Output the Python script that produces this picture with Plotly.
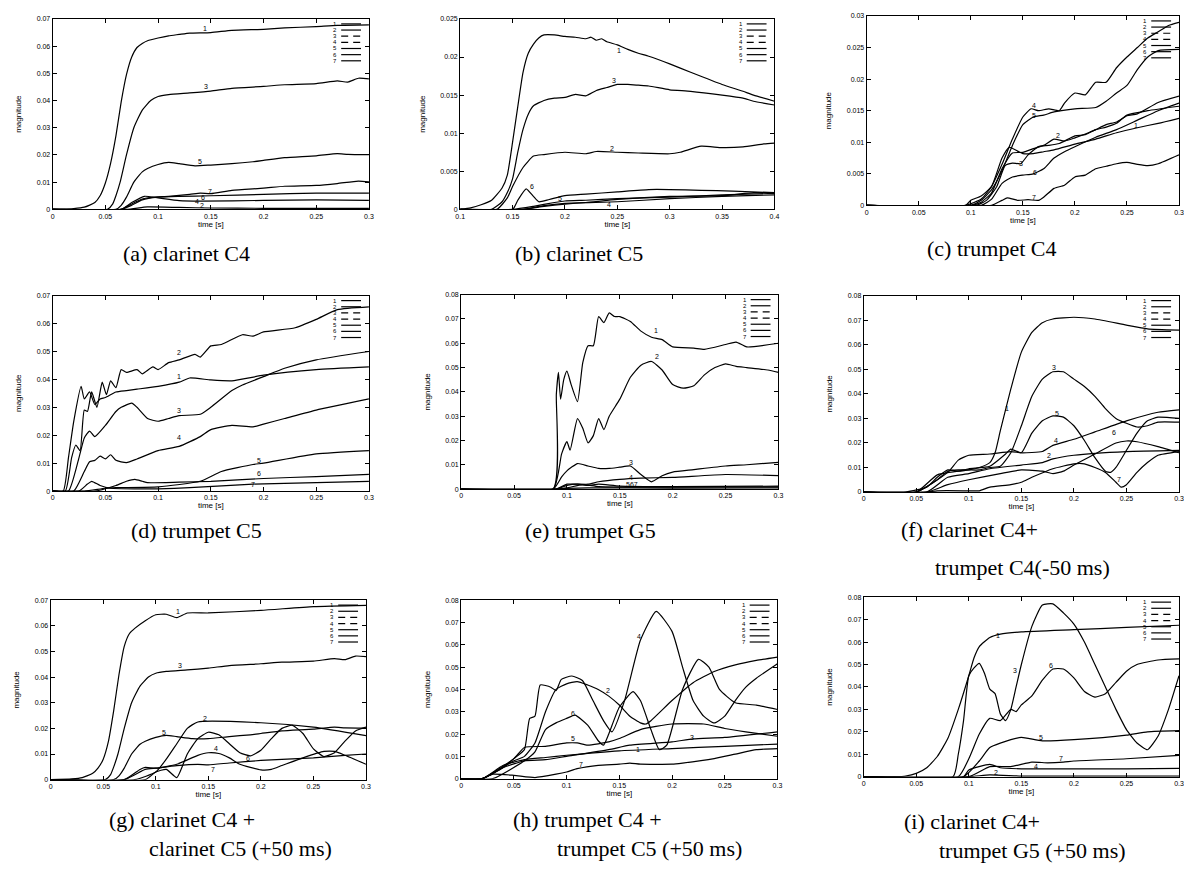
import plotly.graph_objects as go

# ---------------- data: (a) clarinet C4 ----------------
a1_t = [0, 0.02, 0.03, 0.04, 0.045, 0.05, 0.055, 0.06, 0.065, 0.07, 0.075, 0.08, 0.085, 0.09, 0.1, 0.11, 0.12, 0.13, 0.15, 0.17, 0.2, 0.22, 0.25, 0.27, 0.3]
a1_m = [0, 0.0003, 0.0008, 0.0025, 0.005, 0.0097, 0.017, 0.027, 0.0395, 0.0495, 0.056, 0.0595, 0.061, 0.062, 0.063, 0.0638, 0.0643, 0.0648, 0.065, 0.0658, 0.0662, 0.0667, 0.0672, 0.0676, 0.0678]
a2_t = [0, 0.07, 0.09, 0.12, 0.15, 0.2, 0.25, 0.3]
a2_m = [0, 0, 0.0009, 0.0007, 0.0005, 0.0004, 0.0004, 0.0004]
a3_t = [0, 0.052, 0.057, 0.06, 0.064, 0.07, 0.077, 0.085, 0.093, 0.1, 0.11, 0.13, 0.15, 0.17, 0.2, 0.22, 0.25, 0.27, 0.28, 0.29, 0.3]
a3_m = [0, 0, 0.002, 0.005, 0.01, 0.02, 0.03, 0.0365, 0.04, 0.0415, 0.0422, 0.0428, 0.0435, 0.0445, 0.0452, 0.0458, 0.0462, 0.0472, 0.0468, 0.0482, 0.048]
a4_t = [0, 0.065, 0.075, 0.087, 0.1, 0.12, 0.14, 0.2, 0.25, 0.3]
a4_m = [0, 0, 0.0025, 0.0048, 0.0042, 0.0032, 0.003, 0.0033, 0.0035, 0.0033]
a5_t = [0, 0.06, 0.065, 0.07, 0.077, 0.085, 0.09, 0.1, 0.11, 0.12, 0.135, 0.15, 0.17, 0.19, 0.2, 0.22, 0.25, 0.27, 0.28, 0.3]
a5_m = [0, 0, 0.0015, 0.0045, 0.01, 0.0138, 0.015, 0.0165, 0.0173, 0.0168, 0.016, 0.0163, 0.0168, 0.0175, 0.018, 0.019, 0.0197, 0.0205, 0.0202, 0.0201]
a6_t = [0, 0.065, 0.075, 0.085, 0.1, 0.12, 0.15, 0.2, 0.25, 0.3]
a6_m = [0, 0, 0.0015, 0.0035, 0.0045, 0.0048, 0.005, 0.0055, 0.006, 0.006]
a7_t = [0, 0.065, 0.075, 0.085, 0.095, 0.11, 0.13, 0.14, 0.15, 0.17, 0.2, 0.22, 0.25, 0.27, 0.29, 0.3]
a7_m = [0, 0, 0.002, 0.0038, 0.0045, 0.0048, 0.0055, 0.006, 0.0058, 0.007, 0.0078, 0.0085, 0.0088, 0.0095, 0.0104, 0.0101]

# ---------------- data: (b) clarinet C5 ----------------
b1_t = [0.1, 0.11, 0.12, 0.13, 0.14, 0.145, 0.15, 0.155, 0.16, 0.165, 0.17, 0.175, 0.18, 0.19, 0.2, 0.21, 0.22, 0.225, 0.23, 0.235, 0.24, 0.25, 0.26, 0.27, 0.28, 0.3, 0.32, 0.35, 0.37, 0.38, 0.4]
b1_m = [0, 0.0002, 0.0006, 0.0012, 0.0028, 0.0045, 0.0088, 0.0135, 0.018, 0.0205, 0.0217, 0.0225, 0.0229, 0.0229, 0.0227, 0.0226, 0.0224, 0.0226, 0.0222, 0.0224, 0.022, 0.0216, 0.021, 0.0205, 0.0201, 0.0191, 0.018, 0.0164, 0.0155, 0.015, 0.0142]
b2_t = [0.1, 0.135, 0.145, 0.15, 0.16, 0.17, 0.18, 0.2, 0.22, 0.23, 0.25, 0.27, 0.3, 0.31, 0.33, 0.35, 0.37, 0.39, 0.4]
b2_m = [0, 0, 0.0015, 0.003, 0.0055, 0.007, 0.0072, 0.0075, 0.0073, 0.0076, 0.0075, 0.0074, 0.0073, 0.0075, 0.0083, 0.0081, 0.0082, 0.0086, 0.0087]
b3_t = [0.1, 0.13, 0.14, 0.145, 0.15, 0.155, 0.16, 0.165, 0.17, 0.18, 0.19, 0.2, 0.21, 0.22, 0.23, 0.24, 0.25, 0.26, 0.27, 0.28, 0.3, 0.32, 0.35, 0.37, 0.38, 0.4]
b3_m = [0, 0, 0.001, 0.0022, 0.004, 0.0075, 0.0105, 0.0125, 0.0136, 0.0143, 0.0146, 0.0147, 0.0151, 0.0149, 0.0156, 0.016, 0.0164, 0.0164, 0.0163, 0.0162, 0.0157, 0.0155, 0.015, 0.0146, 0.0142, 0.0137]
b4_t = [0.1, 0.16, 0.18, 0.2, 0.25, 0.3, 0.35, 0.4]
b4_m = [0, 0, 0.0005, 0.0008, 0.001, 0.0014, 0.0017, 0.0019]
b5_t = [0.1, 0.15, 0.17, 0.19, 0.2, 0.22, 0.25, 0.3, 0.35, 0.4]
b5_m = [0, 0, 0.0004, 0.0009, 0.0011, 0.0012, 0.0014, 0.0016, 0.0019, 0.0021]
b6_t = [0.1, 0.15, 0.155, 0.163, 0.17, 0.175, 0.185, 0.2, 0.22, 0.25, 0.28, 0.3, 0.33, 0.36, 0.4]
b6_m = [0, 0, 0.0012, 0.0027, 0.0017, 0.001, 0.0013, 0.0018, 0.002, 0.0023, 0.0026, 0.0026, 0.0025, 0.0024, 0.0022]
b7_t = [0.1, 0.16, 0.18, 0.2, 0.22, 0.25, 0.3, 0.35, 0.38, 0.4]
b7_m = [0, 0, 0.0004, 0.0007, 0.0009, 0.0013, 0.0017, 0.0018, 0.0022, 0.0022]

# ---------------- data: (c) trumpet C4 ----------------
c1_t = [0, 0.095, 0.1, 0.11, 0.12, 0.13, 0.137, 0.145, 0.15, 0.16, 0.17, 0.18, 0.2, 0.22, 0.24, 0.26, 0.28, 0.3]
c1_m = [0, 0, 0.0008, 0.0015, 0.003, 0.0075, 0.0092, 0.0086, 0.0082, 0.0082, 0.0085, 0.0088, 0.0097, 0.0105, 0.0115, 0.0123, 0.013, 0.0138]
c2_t = [0, 0.1, 0.11, 0.12, 0.13, 0.14, 0.15, 0.16, 0.17, 0.18, 0.19, 0.2, 0.21, 0.22, 0.23, 0.24, 0.25, 0.27, 0.3]
c2_m = [0, 0, 0.0005, 0.002, 0.0058, 0.0083, 0.0084, 0.009, 0.0095, 0.0105, 0.0102, 0.0107, 0.0113, 0.012, 0.0124, 0.013, 0.0143, 0.015, 0.0157]
c3_t = [0, 0.105, 0.115, 0.125, 0.133, 0.14, 0.148, 0.155, 0.165, 0.175, 0.185, 0.2, 0.21, 0.22, 0.23, 0.24, 0.25, 0.26, 0.28, 0.3]
c3_m = [0, 0, 0.0008, 0.003, 0.0063, 0.0067, 0.0066, 0.008, 0.0093, 0.0095, 0.0098, 0.011, 0.0112, 0.012, 0.0128, 0.0132, 0.0142, 0.0145, 0.0163, 0.0173]
c4_t = [0, 0.095, 0.11, 0.12, 0.13, 0.14, 0.15, 0.158, 0.165, 0.175, 0.185, 0.19, 0.2, 0.21, 0.22, 0.23, 0.24, 0.25, 0.26, 0.27, 0.28, 0.29, 0.3]
c4_m = [0, 0, 0.001, 0.003, 0.0065, 0.0105, 0.014, 0.0153, 0.015, 0.0153, 0.015, 0.0162, 0.0178, 0.0175, 0.0195, 0.0195, 0.0218, 0.0235, 0.025, 0.0265, 0.0275, 0.0285, 0.029]
c5_t = [0, 0.1, 0.11, 0.12, 0.13, 0.14, 0.15, 0.16, 0.17, 0.18, 0.2, 0.22, 0.23, 0.24, 0.25, 0.26, 0.27, 0.28, 0.3]
c5_m = [0, 0, 0.0008, 0.0025, 0.0055, 0.0095, 0.0128, 0.014, 0.0143, 0.0148, 0.0153, 0.0155, 0.0165, 0.0178, 0.019, 0.0215, 0.0235, 0.0245, 0.0247]
c6_t = [0, 0.11, 0.12, 0.13, 0.14, 0.15, 0.16, 0.17, 0.18, 0.19, 0.2, 0.22, 0.24, 0.26, 0.28, 0.3]
c6_m = [0, 0, 0.001, 0.0035, 0.0045, 0.0048, 0.005, 0.0058, 0.0075, 0.0085, 0.0093, 0.0108, 0.012, 0.0135, 0.015, 0.0162]
c7_t = [0, 0.12, 0.13, 0.135, 0.145, 0.155, 0.165, 0.17, 0.18, 0.19, 0.2, 0.21, 0.22, 0.23, 0.24, 0.25, 0.26, 0.27, 0.28, 0.3]
c7_m = [0, 0, 0.0008, 0.0012, 0.0008, 0.0009, 0.0008, 0.0013, 0.0027, 0.0032, 0.0045, 0.0048, 0.0058, 0.0062, 0.0066, 0.0068, 0.0065, 0.0063, 0.0066, 0.008]

# ---------------- data: (d) trumpet C5 ----------------
d1_t = [0, 0.01, 0.015, 0.02, 0.027, 0.03, 0.035, 0.04, 0.045, 0.05, 0.06, 0.07, 0.08, 0.1, 0.12, 0.13, 0.15, 0.17, 0.2, 0.25, 0.3]
d1_m = [0, 0, 0.012, 0.025, 0.0375, 0.033, 0.0355, 0.031, 0.033, 0.0335, 0.0355, 0.036, 0.0365, 0.0375, 0.039, 0.0405, 0.0398, 0.0395, 0.0415, 0.0435, 0.0445]
d2_t = [0, 0.012, 0.018, 0.022, 0.026, 0.03, 0.033, 0.037, 0.042, 0.047, 0.051, 0.055, 0.06, 0.065, 0.07, 0.08, 0.085, 0.095, 0.1, 0.11, 0.12, 0.135, 0.14, 0.15, 0.16, 0.18, 0.19, 0.2, 0.23, 0.25, 0.27, 0.3]
d2_m = [0, 0, 0.012, 0.0165, 0.0145, 0.029, 0.0285, 0.0355, 0.030, 0.039, 0.0345, 0.0395, 0.037, 0.0435, 0.0425, 0.0435, 0.042, 0.0445, 0.0435, 0.046, 0.047, 0.049, 0.048, 0.052, 0.0525, 0.056, 0.0555, 0.057, 0.0585, 0.0615, 0.065, 0.066]
d3_t = [0, 0.015, 0.025, 0.03, 0.035, 0.04, 0.05, 0.06, 0.065, 0.075, 0.08, 0.09, 0.1, 0.11, 0.12, 0.14, 0.15, 0.17, 0.18, 0.2, 0.22, 0.25, 0.3]
d3_m = [0, 0, 0.012, 0.019, 0.0215, 0.0195, 0.0235, 0.0285, 0.03, 0.0315, 0.03, 0.026, 0.025, 0.026, 0.027, 0.0275, 0.03, 0.036, 0.038, 0.041, 0.044, 0.047, 0.050]
d4_t = [0, 0.02, 0.03, 0.035, 0.04, 0.045, 0.05, 0.055, 0.06, 0.07, 0.08, 0.1, 0.12, 0.14, 0.15, 0.17, 0.19, 0.2, 0.22, 0.25, 0.3]
d4_m = [0, 0, 0.007, 0.0105, 0.011, 0.0125, 0.0115, 0.013, 0.011, 0.0102, 0.0115, 0.0145, 0.016, 0.0195, 0.022, 0.0235, 0.023, 0.024, 0.026, 0.029, 0.033]
d5_t = [0, 0.03, 0.05, 0.06, 0.1, 0.14, 0.16, 0.19, 0.2, 0.25, 0.3]
d5_m = [0, 0, 0.001, 0.0012, 0.0015, 0.0035, 0.007, 0.0095, 0.01, 0.0133, 0.0145]
d6_t = [0, 0.04, 0.06, 0.07, 0.078, 0.085, 0.09, 0.12, 0.15, 0.2, 0.25, 0.3]
d6_m = [0, 0, 0.002, 0.0035, 0.0042, 0.0035, 0.003, 0.0032, 0.0035, 0.0045, 0.0052, 0.006]
d7_t = [0, 0.025, 0.033, 0.037, 0.045, 0.055, 0.08, 0.1, 0.13, 0.19, 0.25, 0.3]
d7_m = [0, 0, 0.0025, 0.0035, 0.002, 0.001, 0.0008, 0.0008, 0.0012, 0.0025, 0.003, 0.0035]

# ---------------- data: (e) trumpet G5 ----------------
e1_t = [0, 0.087, 0.09, 0.092, 0.094, 0.097, 0.1, 0.104, 0.11, 0.115, 0.12, 0.125, 0.13, 0.135, 0.14, 0.145, 0.15, 0.16, 0.17, 0.18, 0.19, 0.2, 0.22, 0.23, 0.25, 0.26, 0.27, 0.3]
e1_m = [0, 0, 0.039, 0.048, 0.037, 0.045, 0.0485, 0.043, 0.036, 0.052, 0.059, 0.059, 0.071, 0.0685, 0.0725, 0.071, 0.071, 0.069, 0.065, 0.0625, 0.0615, 0.0585, 0.058, 0.0575, 0.0595, 0.0605, 0.0585, 0.06]
e2_t = [0, 0.087, 0.095, 0.1, 0.103, 0.11, 0.115, 0.12, 0.125, 0.13, 0.135, 0.14, 0.15, 0.16, 0.17, 0.18, 0.19, 0.2, 0.21, 0.22, 0.23, 0.24, 0.25, 0.26, 0.27, 0.29, 0.3]
e2_m = [0, 0, 0.0145, 0.0195, 0.016, 0.029, 0.025, 0.019, 0.022, 0.029, 0.0245, 0.03, 0.037, 0.046, 0.051, 0.0525, 0.049, 0.043, 0.0415, 0.0425, 0.047, 0.05, 0.0515, 0.0505, 0.05, 0.049, 0.048]
e3_t = [0, 0.087, 0.095, 0.1, 0.11, 0.12, 0.13, 0.14, 0.15, 0.16, 0.17, 0.18, 0.19, 0.2, 0.22, 0.25, 0.27, 0.3]
e3_m = [0, 0, 0.005, 0.0075, 0.0105, 0.0095, 0.0085, 0.0085, 0.009, 0.0095, 0.006, 0.003, 0.0055, 0.007, 0.008, 0.0095, 0.01, 0.011]
e4_t = [0, 0.09, 0.1, 0.12, 0.13, 0.15, 0.17, 0.2, 0.25, 0.3]
e4_m = [0, 0, 0.002, 0.002, 0.003, 0.004, 0.0045, 0.0048, 0.006, 0.0055]
e5_t = [0, 0.09, 0.1, 0.11, 0.12, 0.13, 0.15, 0.2, 0.3]
e5_m = [0, 0, 0.0015, 0.002, 0.0015, 0.002, 0.0012, 0.001, 0.0012]
e6_t = [0, 0.09, 0.1, 0.115, 0.13, 0.2, 0.3]
e6_m = [0, 0, 0.0005, 0.0018, 0.001, 0.0008, 0.0009]
e7_t = [0, 0.09, 0.1, 0.12, 0.2, 0.3]
e7_m = [0, 0, 0.0003, 0.0005, 0.0004, 0.0005]

# ---------------- data: (f) clarinet C4 + trumpet C4(-50 ms) ----------------
f1_t = [0, 0.04, 0.06, 0.07, 0.08, 0.09, 0.1, 0.11, 0.12, 0.125, 0.13, 0.14, 0.15, 0.16, 0.17, 0.18, 0.2, 0.22, 0.25, 0.27, 0.3]
f1_m = [0, 0, 0.002, 0.006, 0.009, 0.0085, 0.009, 0.01, 0.012, 0.016, 0.025, 0.042, 0.057, 0.065, 0.069, 0.0705, 0.0712, 0.0705, 0.068, 0.0665, 0.066]
f2_t = [0, 0.06, 0.08, 0.1, 0.12, 0.15, 0.17, 0.18, 0.2, 0.25, 0.3]
f2_m = [0, 0, 0.006, 0.0075, 0.0095, 0.011, 0.012, 0.0135, 0.015, 0.0165, 0.017]
f3_t = [0, 0.05, 0.07, 0.08, 0.09, 0.1, 0.11, 0.12, 0.13, 0.14, 0.15, 0.16, 0.17, 0.18, 0.19, 0.2, 0.21, 0.22, 0.23, 0.24, 0.25, 0.26, 0.27, 0.28, 0.3]
f3_m = [0, 0, 0.005, 0.0085, 0.009, 0.009, 0.009, 0.01, 0.0105, 0.016, 0.027, 0.039, 0.046, 0.049, 0.049, 0.046, 0.043, 0.039, 0.034, 0.03, 0.028, 0.0265, 0.027, 0.0285, 0.0285]
f4_t = [0, 0.05, 0.08, 0.09, 0.1, 0.12, 0.14, 0.15, 0.17, 0.18, 0.2, 0.22, 0.25, 0.28, 0.3]
f4_m = [0, 0, 0.008, 0.013, 0.015, 0.0155, 0.0165, 0.016, 0.0165, 0.019, 0.0215, 0.0245, 0.029, 0.0325, 0.0335]
f5_t = [0, 0.05, 0.07, 0.09, 0.1, 0.12, 0.135, 0.14, 0.15, 0.16, 0.17, 0.18, 0.19, 0.2, 0.21, 0.22, 0.23, 0.235, 0.24, 0.25, 0.26, 0.27, 0.28, 0.3]
f5_m = [0, 0, 0.007, 0.0085, 0.0095, 0.0105, 0.0155, 0.0175, 0.016, 0.024, 0.029, 0.031, 0.0305, 0.027, 0.021, 0.014, 0.0085, 0.008, 0.01, 0.017, 0.024, 0.029, 0.0305, 0.030]
f6_t = [0, 0.06, 0.08, 0.1, 0.13, 0.15, 0.17, 0.18, 0.19, 0.2, 0.22, 0.24, 0.25, 0.26, 0.28, 0.3]
f6_m = [0, 0, 0.003, 0.005, 0.0075, 0.009, 0.0085, 0.0075, 0.0085, 0.011, 0.0155, 0.02, 0.0208, 0.0205, 0.0185, 0.016]
f7_t = [0, 0.06, 0.07, 0.1, 0.11, 0.12, 0.14, 0.15, 0.16, 0.18, 0.2, 0.21, 0.22, 0.23, 0.24, 0.245, 0.25, 0.26, 0.27, 0.28, 0.3]
f7_m = [0, 0, 0.0005, 0.0005, 0.0005, 0.002, 0.003, 0.004, 0.006, 0.0095, 0.0115, 0.0115, 0.01, 0.008, 0.004, 0.002, 0.003, 0.008, 0.012, 0.015, 0.0165]

# ---------------- data: (g) clarinet C4 + clarinet C5 (+50 ms) ----------------
g1_t = [0, 0.02, 0.03, 0.04, 0.045, 0.05, 0.055, 0.06, 0.065, 0.07, 0.075, 0.08, 0.09, 0.1, 0.11, 0.12, 0.13, 0.15, 0.2, 0.25, 0.3]
g1_m = [0, 0.0003, 0.0008, 0.0025, 0.0045, 0.008, 0.015, 0.027, 0.041, 0.052, 0.057, 0.059, 0.062, 0.0643, 0.0645, 0.0632, 0.065, 0.065, 0.066, 0.0675, 0.068]
g2_t = [0, 0.08, 0.1, 0.11, 0.12, 0.13, 0.14, 0.2, 0.25, 0.3]
g2_m = [0, 0, 0.003, 0.008, 0.014, 0.02, 0.0225, 0.0222, 0.0205, 0.0172]
g3_t = [0, 0.052, 0.057, 0.06, 0.064, 0.07, 0.077, 0.085, 0.093, 0.1, 0.11, 0.13, 0.15, 0.17, 0.2, 0.22, 0.25, 0.27, 0.28, 0.29, 0.3]
g3_m = [0, 0, 0.002, 0.005, 0.01, 0.02, 0.03, 0.0365, 0.04, 0.0415, 0.0422, 0.0428, 0.0435, 0.0445, 0.0452, 0.0458, 0.0462, 0.0472, 0.0468, 0.0482, 0.048]
g4_t = [0, 0.07, 0.085, 0.09, 0.1, 0.12, 0.14, 0.15, 0.16, 0.17, 0.18, 0.2, 0.21, 0.22, 0.24, 0.26, 0.27, 0.28, 0.3]
g4_m = [0, 0, 0.004, 0.0048, 0.0045, 0.006, 0.0095, 0.0105, 0.0102, 0.0085, 0.006, 0.0038, 0.004, 0.0055, 0.0085, 0.011, 0.011, 0.0095, 0.006]
g5_t = [0, 0.06, 0.065, 0.07, 0.077, 0.085, 0.09, 0.1, 0.11, 0.12, 0.135, 0.15, 0.17, 0.19, 0.2, 0.22, 0.25, 0.27, 0.28, 0.3]
g5_m = [0, 0, 0.0015, 0.0045, 0.01, 0.0138, 0.015, 0.0165, 0.0173, 0.0168, 0.016, 0.016, 0.0168, 0.0175, 0.018, 0.019, 0.0197, 0.0205, 0.0202, 0.0201]
g6_t = [0, 0.09, 0.1, 0.11, 0.12, 0.13, 0.14, 0.15, 0.16, 0.17, 0.18, 0.19, 0.2, 0.21, 0.22, 0.23, 0.24, 0.25, 0.26, 0.27, 0.28, 0.29, 0.3]
g6_m = [0, 0, 0.003, 0.004, 0.0008, 0.01, 0.016, 0.0185, 0.0175, 0.014, 0.0105, 0.0093, 0.0115, 0.016, 0.02, 0.0212, 0.018, 0.012, 0.009, 0.0105, 0.015, 0.019, 0.0205]
g7_t = [0, 0.07, 0.09, 0.1, 0.12, 0.14, 0.15, 0.17, 0.2, 0.25, 0.28, 0.3]
g7_m = [0, 0, 0.004, 0.0045, 0.0055, 0.006, 0.0058, 0.0065, 0.0075, 0.0085, 0.0095, 0.010]

# ---------------- data: (h) trumpet C4 + trumpet C5 (+50 ms) ----------------
h1_t = [0, 0.02, 0.04, 0.06, 0.08, 0.1, 0.15, 0.2, 0.25, 0.3]
h1_m = [0, 0, 0.006, 0.0085, 0.0095, 0.0105, 0.0125, 0.0135, 0.0145, 0.0155]
h2_t = [0, 0.02, 0.05, 0.06, 0.07, 0.08, 0.09, 0.1, 0.11, 0.12, 0.13, 0.14, 0.15, 0.16, 0.17, 0.175, 0.18, 0.2, 0.22, 0.24, 0.26, 0.28, 0.3]
h2_m = [0, 0, 0.008, 0.01, 0.016, 0.03, 0.04, 0.0425, 0.0435, 0.042, 0.04, 0.037, 0.033, 0.028, 0.025, 0.0245, 0.026, 0.035, 0.043, 0.048, 0.051, 0.053, 0.0545]
h3_t = [0, 0.02, 0.04, 0.06, 0.08, 0.1, 0.14, 0.16, 0.2, 0.22, 0.25, 0.3]
h3_m = [0, 0, 0.005, 0.008, 0.0085, 0.01, 0.013, 0.015, 0.0165, 0.0178, 0.0185, 0.021]
h4_t = [0, 0.02, 0.04, 0.05, 0.06, 0.065, 0.07, 0.075, 0.085, 0.09, 0.095, 0.105, 0.115, 0.125, 0.135, 0.143, 0.155, 0.17, 0.185, 0.2, 0.21, 0.22, 0.23, 0.24, 0.25, 0.26, 0.27, 0.28, 0.3]
h4_m = [0, 0, 0.005, 0.009, 0.013, 0.027, 0.028, 0.042, 0.041, 0.0395, 0.0445, 0.046, 0.044, 0.035, 0.026, 0.021, 0.035, 0.062, 0.075, 0.066, 0.05, 0.035, 0.028, 0.025, 0.028, 0.035, 0.041, 0.045, 0.0515]
h5_t = [0, 0.02, 0.05, 0.06, 0.08, 0.1, 0.11, 0.12, 0.14, 0.15, 0.17, 0.2, 0.23, 0.25, 0.27, 0.3]
h5_m = [0, 0, 0.009, 0.014, 0.0145, 0.016, 0.016, 0.015, 0.0165, 0.018, 0.022, 0.0245, 0.0245, 0.0225, 0.021, 0.019]
h6_t = [0, 0.03, 0.06, 0.07, 0.08, 0.09, 0.1, 0.108, 0.12, 0.13, 0.135, 0.14, 0.15, 0.163, 0.17, 0.18, 0.188, 0.195, 0.21, 0.225, 0.235, 0.245, 0.26, 0.28, 0.3]
h6_m = [0, 0, 0.008, 0.012, 0.022, 0.025, 0.027, 0.0285, 0.024, 0.017, 0.015, 0.02, 0.032, 0.039, 0.035, 0.022, 0.013, 0.015, 0.04, 0.0535, 0.05, 0.04, 0.034, 0.033, 0.031]
h7_t = [0, 0.02, 0.03, 0.05, 0.07, 0.09, 0.1, 0.11, 0.13, 0.15, 0.16, 0.17, 0.2, 0.21, 0.24, 0.26, 0.28, 0.3]
h7_m = [0, 0, 0.002, 0.0015, 0.0005, 0.002, 0.003, 0.0045, 0.006, 0.0065, 0.007, 0.0065, 0.0065, 0.007, 0.009, 0.011, 0.013, 0.0135]

# ---------------- data: (i) clarinet C4 + trumpet G5 (+50 ms) ----------------
i1_t = [0, 0.03, 0.04, 0.05, 0.06, 0.07, 0.08, 0.09, 0.1, 0.105, 0.11, 0.12, 0.13, 0.15, 0.2, 0.25, 0.3]
i1_m = [0, 0, 0.0003, 0.0015, 0.004, 0.009, 0.017, 0.03, 0.045, 0.053, 0.058, 0.062, 0.0635, 0.0645, 0.0655, 0.0665, 0.0675]
i2_t = [0, 0.1, 0.12, 0.15, 0.2, 0.3]
i2_m = [0, 0, 0.0008, 0.0003, 0.0003, 0.0003]
i3_t = [0, 0.085, 0.09, 0.095, 0.1, 0.105, 0.11, 0.115, 0.12, 0.125, 0.13, 0.135, 0.14, 0.145, 0.15, 0.16, 0.17, 0.18, 0.19, 0.2, 0.21, 0.22, 0.23, 0.24, 0.25, 0.26, 0.27, 0.28, 0.29, 0.3]
i3_m = [0, 0, 0.01, 0.025, 0.045, 0.0485, 0.0505, 0.046, 0.039, 0.037, 0.028, 0.025, 0.03, 0.04, 0.05, 0.067, 0.0765, 0.077, 0.073, 0.068, 0.06, 0.05, 0.04, 0.03, 0.021, 0.015, 0.012, 0.018, 0.03, 0.045]
i4_t = [0, 0.095, 0.1, 0.12, 0.13, 0.15, 0.2, 0.25, 0.3]
i4_m = [0, 0, 0.003, 0.0055, 0.004, 0.0035, 0.0035, 0.0035, 0.0037]
i5_t = [0, 0.095, 0.11, 0.12, 0.14, 0.15, 0.17, 0.2, 0.25, 0.27, 0.3]
i5_m = [0, 0, 0.007, 0.013, 0.0165, 0.0175, 0.016, 0.0165, 0.0185, 0.02, 0.0205]
i6_t = [0, 0.09, 0.1, 0.11, 0.12, 0.13, 0.14, 0.145, 0.15, 0.16, 0.17, 0.18, 0.19, 0.2, 0.21, 0.22, 0.23, 0.24, 0.25, 0.26, 0.28, 0.3]
i6_m = [0, 0, 0.008, 0.019, 0.026, 0.025, 0.03, 0.029, 0.032, 0.036, 0.043, 0.048, 0.048, 0.044, 0.038, 0.0355, 0.037, 0.042, 0.047, 0.05, 0.052, 0.0525]
i7_t = [0, 0.1, 0.12, 0.14, 0.16, 0.175, 0.19, 0.2, 0.25, 0.3]
i7_m = [0, 0, 0.0045, 0.0045, 0.0065, 0.0062, 0.0065, 0.007, 0.008, 0.0095]

# ---------------- curve labels (number, time, magnitude) ----------------
a_lab = [("1", 0.1445, 0.0664), ("3", 0.145, 0.0453), ("5", 0.14, 0.0177), ("7", 0.149, 0.0067), ("6", 0.143, 0.0045), ("4", 0.137, 0.003), ("2", 0.142, 0.0016)]
b_lab = [("1", 0.252, 0.0209), ("3", 0.247, 0.0169), ("2", 0.245, 0.008), ("6", 0.169, 0.003), ("5", 0.195, 0.0014), ("4", 0.242, 0.0007)]
c_lab = [("4", 0.161, 0.0159), ("5", 0.161, 0.0142), ("2", 0.184, 0.011), ("3", 0.148, 0.0067), ("6", 0.162, 0.0052), ("7", 0.161, 0.0013), ("1", 0.259, 0.0127)]
d_lab = [("2", 0.12, 0.0496), ("1", 0.12, 0.041), ("3", 0.12, 0.029), ("4", 0.12, 0.0193), ("5", 0.196, 0.011), ("6", 0.196, 0.0062), ("7", 0.19, 0.0024)]
e_lab = [("1", 0.184, 0.0653), ("2", 0.185, 0.0544), ("3", 0.161, 0.0109), ("4", 0.161, 0.0049), ("567", 0.162, 0.002)]
f_lab = [("1", 0.136, 0.034), ("3", 0.181, 0.0509), ("5", 0.184, 0.0321), ("4", 0.183, 0.0212), ("2", 0.176, 0.015), ("6", 0.238, 0.0242), ("7", 0.243, 0.005)]
g_lab = [("1", 0.121, 0.0654), ("3", 0.123, 0.0445), ("2", 0.147, 0.0239), ("5", 0.108, 0.0183), ("4", 0.157, 0.0122), ("6", 0.188, 0.0084), ("7", 0.154, 0.0039)]
h_lab = [("4", 0.169, 0.0637), ("2", 0.139, 0.0396), ("6", 0.106, 0.0293), ("5", 0.106, 0.0179), ("3", 0.219, 0.0186), ("1", 0.168, 0.013), ("7", 0.114, 0.0064)]
i_lab = [("1", 0.128, 0.063), ("3", 0.1436, 0.0475), ("6", 0.178, 0.0497), ("5", 0.169, 0.0173), ("7", 0.188, 0.008), ("4", 0.164, 0.0044), ("2", 0.126, 0.0018)]

# ---------------- captions ----------------
captions = {
    "a": ["(a) clarinet C4"],
    "b": ["(b) clarinet C5"],
    "c": ["(c) trumpet C4"],
    "d": ["(d) trumpet C5"],
    "e": ["(e) trumpet G5"],
    "f": ["(f) clarinet C4+", "trumpet C4(-50 ms)"],
    "g": ["(g) clarinet C4 +", "clarinet C5 (+50 ms)"],
    "h": ["(h) trumpet C4 +", "trumpet C5 (+50 ms)"],
    "i": ["(i) clarinet C4+", "trumpet G5 (+50 ms)"],
}
legend_keys = ["1", "2", "3", "4", "5", "6", "7"]

# ---------------- layout geometry (window pixels) ----------------
WIN_W, WIN_H = 1192, 872
OFF = 8                      # default page margin around the plot div
W, H = WIN_W - 2 * OFF, WIN_H - 2 * OFF


def fx(px):
    return (px - OFF) / W


def fy(py):
    return 1 - (py - OFF) / H


panels = ["a", "b", "c", "d", "e", "f", "g", "h", "i"]
boxes = {  # left, top, right, bottom (window pixels)
    "a": (48, 15, 367, 207), "b": (459, 15, 776, 207), "c": (869, 12, 1184, 203),
    "d": (48, 294, 367, 491), "e": (460, 293, 780, 489), "f": (866, 294, 1184, 492),
    "g": (46, 601, 364, 782), "h": (460, 601, 779, 781), "i": (866, 598, 1184, 779),
}
xranges = {p: [0, 0.3] for p in panels}
xranges["b"] = [0.1, 0.4]
yranges = {"a": [0, 0.07], "b": [0, 0.025], "c": [0, 0.03], "d": [0, 0.07], "e": [0, 0.08],
           "f": [0, 0.08], "g": [0, 0.07], "h": [0, 0.08], "i": [0, 0.08]}
ydt = {"a": 0.01, "b": 0.005, "c": 0.005, "d": 0.01, "e": 0.01, "f": 0.01, "g": 0.01, "h": 0.01, "i": 0.01}
cap_pos = {  # (x left, y center) per caption line, window pixels
    "a": [(117, 251)], "b": [(512, 251)], "c": [(928, 246)],
    "d": [(125, 531)], "e": [(522, 531)],
    "f": [(902, 530), (936, 568)],
    "g": [(103, 822), (143, 851)],
    "h": [(510, 822), (555, 851)],
    "i": [(905, 824), (940, 853)],
}

SANS = "Liberation Sans, Arial, sans-serif"
TICKFONT = dict(family=SANS, size=7, color="black")

fig = go.Figure()
layout = dict(width=W, height=H, margin=dict(l=0, r=0, t=0, b=0),
              paper_bgcolor="white", plot_bgcolor="white", showlegend=False)
annotations = []
shapes = []

for n, p in enumerate(panels, start=1):
    sfx = "" if n == 1 else str(n)
    xa, ya = "x" + sfx, "y" + sfx
    l, t, r, b = boxes[p]
    pw, ph = r - l, b - t
    axis_common = dict(showline=True, linecolor="black", linewidth=1, mirror="ticks",
                       ticks="inside", ticklen=4, tickwidth=1, tickcolor="black",
                       showgrid=False, zeroline=False, tickfont=TICKFONT)
    layout["xaxis" + sfx] = dict(axis_common, domain=[fx(l), fx(r)], anchor=ya,
                                 range=xranges[p], dtick=0.05, tick0=0,
                                 title=dict(text="time [s]", standoff=1,
                                            font=dict(family=SANS, size=8, color="black")))
    layout["yaxis" + sfx] = dict(axis_common, domain=[fy(b), fy(t)], anchor=xa,
                                 range=yranges[p], dtick=ydt[p], tick0=0,
                                 title=dict(text="magnitude", standoff=13,
                                            font=dict(family=SANS, size=8, color="black")))
    for k in range(1, 8):
        tt = globals()[f"{p}{k}_t"]
        mm = globals()[f"{p}{k}_m"]
        fig.add_trace(go.Scatter(x=tt, y=mm, mode="lines", xaxis=xa, yaxis=ya,
                                 line=dict(color="black", width=1.2, shape="spline", smoothing=0.5),
                                 hoverinfo="skip", showlegend=False))
    # curve labels
    for txt, lx, ly in globals()[f"{p}_lab"]:
        annotations.append(dict(text=txt, x=lx, y=ly, xref=xa, yref=ya, showarrow=False,
                                font=dict(family=SANS, size=7, color="black")))
    # key in the upper right corner
    for j, key in enumerate(legend_keys):
        yy = 1 - (5 + 6.2 * j) / ph
        annotations.append(dict(text=key, x=1 - 30 / pw, y=yy, xref=xa + " domain", yref=ya + " domain",
                                xanchor="right", yanchor="middle", showarrow=False,
                                font=dict(family=SANS, size=6, color="black")))
        shapes.append(dict(type="line", xref=xa + " domain", yref=ya + " domain",
                           x0=1 - 28 / pw, x1=1 - 8 / pw, y0=yy, y1=yy,
                           line=dict(color="black", width=1.2,
                                     dash="7px,5px" if key in ("3", "4") else "solid")))
    # caption
    for line_txt, (cx, cy) in zip(captions[p], cap_pos[p]):
        annotations.append(dict(text=line_txt, x=fx(cx), y=fy(cy), xref="paper", yref="paper",
                                xanchor="left", yanchor="middle", showarrow=False,
                                font=dict(family="Liberation Serif, Times New Roman, serif", size=22, color="black")))

layout["annotations"] = annotations
layout["shapes"] = shapes
fig.update_layout(**layout)
fig.write_html("out.html")
